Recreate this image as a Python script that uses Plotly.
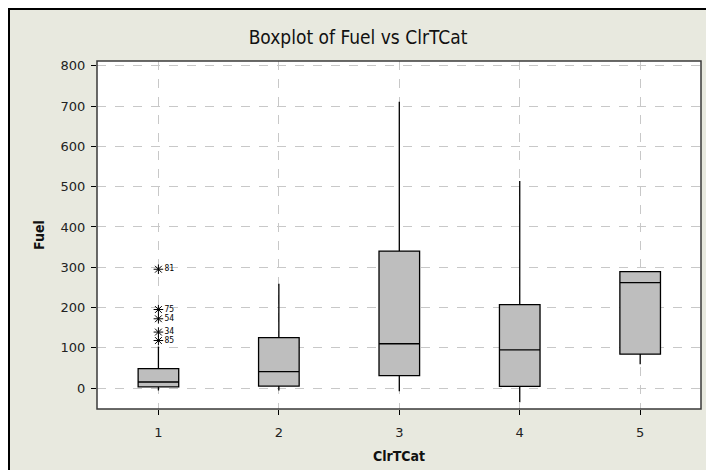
import plotly.graph_objects as go

categories = [1, 2, 3, 4, 5]
q1_vals = [3, 5, 31, 4, 84]
median_vals = [15, 41, 110, 95, 262]
q3_vals = [48, 125, 340, 207, 289]
lower_whisker = [-6, -6, -8, -35, 59]
upper_whisker = [103, 259, 711, 514, 289]

outlier_x = [1, 1, 1, 1, 1]
outlier_y = [295, 195, 172, 139, 118]
outlier_ids = ["81", "75", "54", "34", "85"]

y_ticks = [0, 100, 200, 300, 400, 500, 600, 700, 800]

FONT = "DejaVu Sans Condensed, Liberation Sans Narrow, DejaVu Sans, sans-serif"
TICKFONT = "DejaVu Sans, sans-serif"

fig = go.Figure()
fig.add_trace(go.Box(
    x=categories, q1=q1_vals, median=median_vals, q3=q3_vals,
    lowerfence=lower_whisker, upperfence=upper_whisker,
    width=0.337, whiskerwidth=0, boxpoints=False,
    fillcolor="#BEBEBE", line=dict(color="#000000", width=1.3),
    showlegend=False, hoverinfo="skip",
))
fig.add_trace(go.Scatter(
    x=outlier_x, y=outlier_y, mode="markers+text",
    marker=dict(symbol="asterisk-open", size=8, color="#000000",
                line=dict(color="#000000", width=1)),
    text=outlier_ids, textposition="middle right",
    textfont=dict(family="DejaVu Sans Mono, monospace", size=8, color="#000000"),
    showlegend=False, hoverinfo="skip",
))

# figure is drawn at page offset (8, 8); figure size 706 x 462
# plot area in figure px: x 89..693, y 53..401
W, H = 604, 348
def fx(X):
    return (X - 89) / W
def fy(Y):
    return (401 - Y) / H

shapes = [
    dict(type="line", xref="paper", yref="paper", x0=fx(1), x1=fx(1), y0=fy(0), y1=fy(470),
         line=dict(color="black", width=2)),
    dict(type="line", xref="paper", yref="paper", x0=fx(0), x1=fx(720), y0=fy(1), y1=fy(1),
         line=dict(color="black", width=2)),
    dict(type="rect", xref="paper", yref="paper", x0=0, x1=1, y0=0, y1=1,
         line=dict(color="#3A3A3A", width=1.5), fillcolor="rgba(0,0,0,0)"),
]

fig.update_layout(
    width=706, height=462,
    margin=dict(l=89, r=13, t=53, b=61, autoexpand=False),
    paper_bgcolor="#E8E9DF",
    plot_bgcolor="#FFFFFF",
    shapes=shapes,
    title=dict(text="Boxplot of Fuel vs ClrTCat", x=350 / 706, xanchor="center",
               y=1 - 29 / 462, yanchor="middle",
               font=dict(family=FONT, size=19, color="#111111")),
    xaxis=dict(range=[0.49, 5.505], tickmode="array", tickvals=categories,
               ticktext=[str(c) for c in categories], automargin=False,
               showgrid=True, gridcolor="#C8C8C8", griddash="dash", gridwidth=1,
               zeroline=False, ticks="outside", ticklen=5, tickcolor="#000000",
               ticklabelstandoff=6,
               tickfont=dict(family=TICKFONT, size=13, color="#222222"),
               title=dict(text="<b>ClrTCat</b>", standoff=12,
                          font=dict(family=FONT, size=14, color="#111111"))),
    yaxis=dict(range=[-52, 812], tickmode="array", tickvals=y_ticks, automargin=False,
               showgrid=True, gridcolor="#C8C8C8", griddash="dash", gridwidth=1,
               zeroline=False, ticks="outside", ticklen=5, tickcolor="#000000",
               ticklabelstandoff=3,
               tickfont=dict(family=TICKFONT, size=13, color="#222222"),
               title=dict(text="<b>Fuel</b>", standoff=12,
                          font=dict(family=FONT, size=14, color="#111111"))),
)

fig.write_html("out.html")
